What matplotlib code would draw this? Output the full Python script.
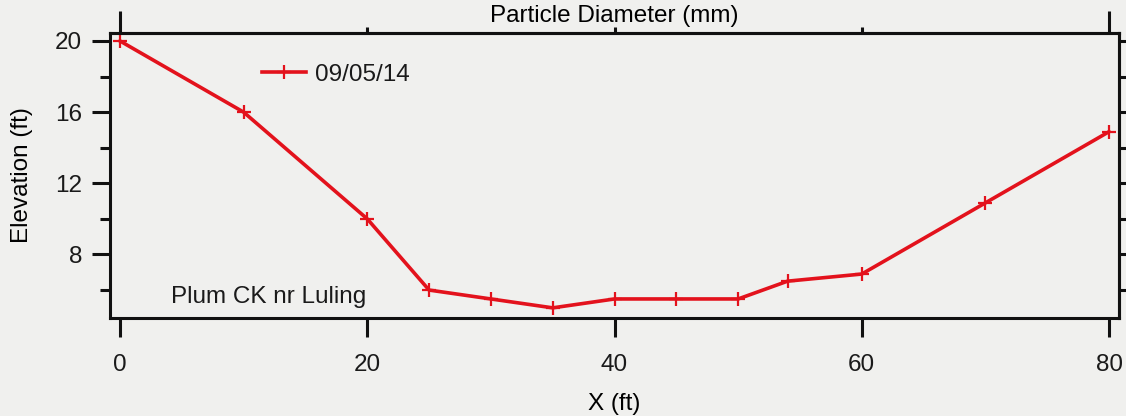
import matplotlib
matplotlib.use('Agg')
import matplotlib.pyplot as plt

# Cross-section survey, Plum CK nr Luling
x_ft = [0, 10, 20, 25, 30, 35, 40, 45, 50, 54, 60, 70, 80]
elev_ft = [20.0, 16.0, 10.0, 6.0, 5.5, 5.0, 5.5, 5.5, 5.5, 6.5, 6.9, 10.9, 14.9]
survey_date = '09/05/14'
site_name = 'Plum CK nr Luling'

x_ticks = [0, 20, 40, 60, 80]
y_major = [8, 12, 16, 20]
y_minor = [6, 10, 14, 18]
top_major = [0, 80]
top_minor = [20, 40, 60]

plt.rcParams['font.family'] = ['Liberation Sans', 'DejaVu Sans']
plt.rcParams['font.size'] = 17.5
plt.rcParams['text.color'] = '#1a1a1a'

bg = '#f0f0ee'
red = '#e3121c'
ink = '#111111'

fig = plt.figure(figsize=(11.26, 4.16), dpi=100, facecolor=bg)
ax = fig.add_axes([0.0977, 0.2356, 0.8961, 0.6851], facecolor=bg)

ax.plot(x_ft, elev_ft, color=red, linewidth=2.6, marker='+',
        markersize=10, markeredgewidth=1.6, label=survey_date)

ax.set_xlim(-0.81, 80.81)
ax.set_ylim(4.43, 20.45)

ax.set_xticks(x_ticks)
ax.set_yticks(y_major)
ax.set_yticks(y_minor, minor=True)
ax.tick_params(axis='x', direction='out', length=14, width=2.2, pad=12,
               colors=ink, labelcolor='#1a1a1a')
ax.tick_params(axis='y', which='major', direction='out', length=13, width=2.2,
               pad=7, colors=ink, labelcolor='#1a1a1a')
ax.tick_params(axis='y', which='minor', direction='out', length=7, width=2.2,
               colors=ink)
for s in ax.spines.values():
    s.set_linewidth(2.2)
    s.set_color(ink)

ax.set_xlabel('X (ft)', labelpad=12)
ax.set_ylabel('Elevation (ft)', labelpad=16)

# top axis: long end ticks, short interior ticks, no labels
top = ax.secondary_xaxis('top')
top.set_xticks(top_major)
top.set_xticks(top_minor, minor=True)
top.tick_params(which='major', direction='out', length=16, width=2.2,
                labeltop=False, colors=ink)
top.tick_params(which='minor', direction='out', length=4, width=2.2,
                colors=ink)
top.spines['top'].set_linewidth(2.2)
top.set_xlabel('Particle Diameter (mm)')
top.xaxis.set_label_coords(0.5, 1.0386, transform=ax.transAxes)

# right axis: plain ticks every 2 ft
right = ax.secondary_yaxis('right')
right.set_yticks(y_major + y_minor)
right.tick_params(direction='out', length=8, width=2.2,
                  labelright=False, colors=ink)
right.spines['right'].set_linewidth(2.2)

ax.legend(loc='center left', bbox_to_anchor=(0.1506, 0.8526), frameon=False,
          borderpad=0, borderaxespad=0, handlelength=1.8, handletextpad=0.4)

ax.text(0.0605, 0.0526, site_name, transform=ax.transAxes,
        ha='left', va='baseline')

fig.savefig('out.png', dpi=100, facecolor=bg)
